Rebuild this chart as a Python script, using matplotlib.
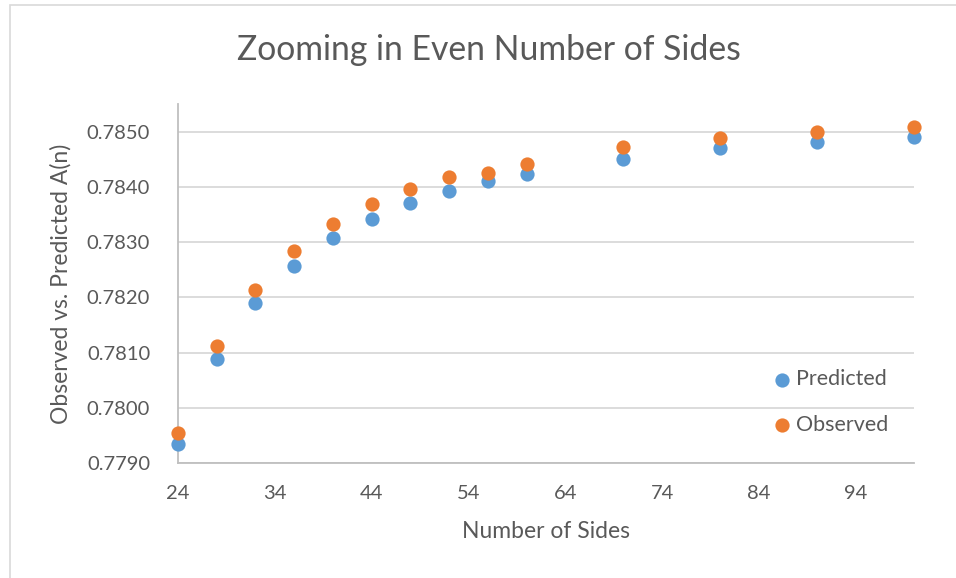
import matplotlib
matplotlib.use("Agg")
from matplotlib import pyplot as plt
from matplotlib.patches import Rectangle

sides = [24, 28, 32, 36, 40, 44, 48, 52, 56, 60, 70, 80, 90, 100]
predicted = [0.77934, 0.78089, 0.78190, 0.78257, 0.78307, 0.78342, 0.78371,
             0.78393, 0.78411, 0.78424, 0.78451, 0.78470, 0.78481, 0.78490]
observed = [0.77954, 0.78112, 0.78214, 0.78283, 0.78333, 0.78369, 0.78397,
            0.78418, 0.78425, 0.78442, 0.78473, 0.78489, 0.78500, 0.78508]
xticks = [24, 34, 44, 54, 64, 74, 84, 94]
yticks = [0.7790, 0.7800, 0.7810, 0.7820, 0.7830, 0.7840, 0.7850]

plt.rcParams['font.family'] = ['Lato', 'DejaVu Sans']
txt = '#595959'

W, H = 956, 578
fig = plt.figure(figsize=(W / 100, H / 100), dpi=100)
fig.patches.append(Rectangle((10 / W, -0.1), 1.2, (H - 5) / H + 0.1, transform=fig.transFigure,
                             fill=False, edgecolor='#d9d9d9', linewidth=1.2))

ax = fig.add_axes([178 / W, (H - 463) / H, (914 - 178) / W, (463 - 104) / H])
ax.scatter(sides, predicted, s=105, color='#5b9bd5', label='Predicted', zorder=3,
           linewidths=0, clip_on=False)
ax.scatter(sides, observed, s=105, color='#ed7d31', label='Observed', zorder=3,
           linewidths=0, clip_on=False)

ax.set_xlim(24, 100)
ax.set_ylim(0.7790, 0.7855)
ax.set_xticks(xticks)
ax.set_yticks(yticks)
ax.set_yticklabels(['%.4f' % v for v in yticks])
ax.grid(axis='y', color='#d9d9d9', linewidth=1.3)
ax.set_axisbelow(True)
for s in ['top', 'right']:
    ax.spines[s].set_visible(False)
for s in ['left', 'bottom']:
    ax.spines[s].set_color('#bfbfbf')
    ax.spines[s].set_linewidth(1.3)
ax.tick_params(length=0, labelsize=14.5, labelcolor=txt)
ax.tick_params(axis='y', pad=20)
ax.tick_params(axis='x', pad=16)

ax.set_xlabel('Number of Sides', fontsize=16.5, color=txt)
ax.xaxis.set_label_coords(0.5, (463 - 521) / 359)
ax.set_ylabel('Observed vs. Predicted A(n)', fontsize=16.5, color=txt)
ax.yaxis.set_label_coords((72 - 178) / 736, 0.5)
fig.text(489 / W, (H - 60) / H, 'Zooming in Even Number of Sides', ha='center', va='baseline',
         fontsize=24.3, color=txt)

ax.legend(loc='center left', bbox_to_anchor=(760 / W, (H - 402) / H), bbox_transform=fig.transFigure,
          frameon=False, fontsize=15.5, labelcolor=txt, handletextpad=0.16, borderpad=0,
          handlelength=1.0, labelspacing=1.19, scatterpoints=1, markerscale=1)

fig.savefig('out.png', dpi=100)
